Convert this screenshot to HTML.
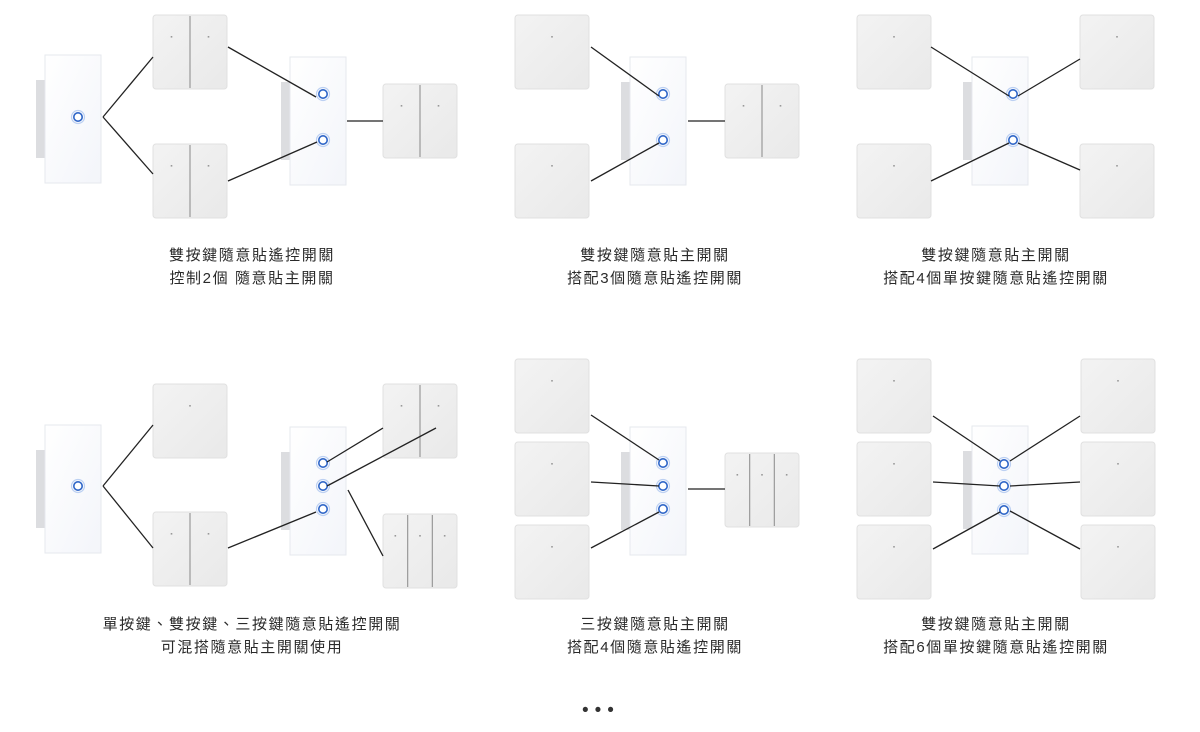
<!DOCTYPE html>
<html><head><meta charset="utf-8">
<style>
html,body{margin:0;padding:0;background:#fff;width:1200px;height:732px;overflow:hidden;position:relative}
svg{position:absolute;left:0;top:0}
.cap{position:absolute;width:400px;text-align:center;font-family:"Liberation Sans","Noto Sans CJK TC",sans-serif;font-size:15px;line-height:23px;color:#2a2a2a;letter-spacing:1.6px}
.dots{position:absolute;left:582px;top:700px;font-size:19px;letter-spacing:6px;color:#333;font-family:"Liberation Sans",sans-serif}
</style></head><body>
<svg id="s" width="1200" height="732" xmlns="http://www.w3.org/2000/svg">
<defs>
<linearGradient id="rg" x1="0" y1="0" x2="1" y2="1"><stop offset="0" stop-color="#f3f3f3"/><stop offset="1" stop-color="#e9e9e9"/></linearGradient>
<linearGradient id="pg" x1="0" y1="0" x2="1" y2="1"><stop offset="0" stop-color="#ffffff"/><stop offset="1" stop-color="#f3f5fa"/></linearGradient>
</defs>
</svg>
<div class="cap" style="left:52px;top:244px">雙按鍵隨意貼遙控開關<br>控制2個 隨意貼主開關</div>
<div class="cap" style="left:455px;top:244px">雙按鍵隨意貼主開關<br>搭配3個隨意貼遙控開關</div>
<div class="cap" style="left:796px;top:244px">雙按鍵隨意貼主開關<br>搭配4個單按鍵隨意貼遙控開關</div>
<div class="cap" style="left:52px;top:613px">單按鍵、雙按鍵、三按鍵隨意貼遙控開關<br>可混搭隨意貼主開關使用</div>
<div class="cap" style="left:455px;top:613px">三按鍵隨意貼主開關<br>搭配4個隨意貼遙控開關</div>
<div class="cap" style="left:796px;top:613px">雙按鍵隨意貼主開關<br>搭配6個單按鍵隨意貼遙控開關</div>
<div class="dots">•••</div>
<script>
var s=document.getElementById('s'),h='';
function R(x,y,n){var w=74,hh=74;h+='<rect x="'+x+'" y="'+y+'" width="'+w+'" height="'+hh+'" rx="3" fill="url(#rg)" stroke="#e0e0e0" stroke-width="1"/>';
for(var i=0;i<n;i++){var cx=x+w*(i+0.5)/n;h+='<rect x="'+(cx-0.8)+'" y="'+(y+21)+'" width="1.6" height="1.6" fill="#999"/>';
if(i>0){var lx=x+w*i/n;h+='<line x1="'+lx+'" y1="'+(y+1)+'" x2="'+lx+'" y2="'+(y+hh-1)+'" stroke="#999" stroke-width="1.2"/>';}}}
function S(x,y,bx,bys){h+='<rect x="'+(x-9)+'" y="'+(y+25)+'" width="10" height="78" fill="#dcdde0"/>';
h+='<rect x="'+x+'" y="'+y+'" width="56" height="128" fill="url(#pg)" stroke="#e6e8ee" stroke-width="1"/>';
bys.forEach(function(by){h+='<circle cx="'+bx+'" cy="'+by+'" r="6.5" fill="none" stroke="#bcd0f2" stroke-width="1.2"/><circle cx="'+bx+'" cy="'+by+'" r="4.2" fill="#fff" stroke="#2f66c8" stroke-width="1.6"/>';});}
function L(a,b,c,d){h+='<line x1="'+a+'" y1="'+b+'" x2="'+c+'" y2="'+d+'" stroke="#222" stroke-width="1.3"/>';}
S(45,55,78,[117]);R(153,15,2);R(153,144,2);S(290,57,323,[94,140]);R(383,84,2);
R(515,15,1);R(515,144,1);S(630,57,663,[94,140]);R(725,84,2);
R(857,15,1);R(857,144,1);R(1080,15,1);R(1080,144,1);S(972,57,1013,[94,140]);
S(45,425,78,[486]);R(153,384,1);R(153,512,2);S(290,427,323,[463,486,509]);R(383,384,2);R(383,514,3);
R(515,359,1);R(515,442,1);R(515,525,1);S(630,427,663,[463,486,509]);R(725,453,3);
R(857,359,1);R(857,442,1);R(857,525,1);R(1081,359,1);R(1081,442,1);R(1081,525,1);S(972,426,1004,[464,486,510]);
L(103,117,153,57);L(103,117,153,174);L(228,47,316,97);L(228,181,317,142);L(347,121,383,121);
L(591,47,659,96);L(591,181,659,143);L(688,121,725,121);
L(931,47,1009,96);L(931,181,1009,143);L(1018,96,1080,59);L(1018,143,1080,170);
L(103,486,153,425);L(103,486,153,548);L(228,548,316,512);L(327,462,383,428);L(327,486,436,428);L(348,490,383,556);
L(591,415,659,460);L(591,482,659,486);L(591,548,659,512);L(688,489,725,489);
L(933,416,1000,461);L(933,482,1000,486);L(933,549,1000,512);L(1010,461,1080,416);L(1010,486,1080,482);L(1010,511,1080,549);
s.innerHTML+=h;
</script>
</body></html>
